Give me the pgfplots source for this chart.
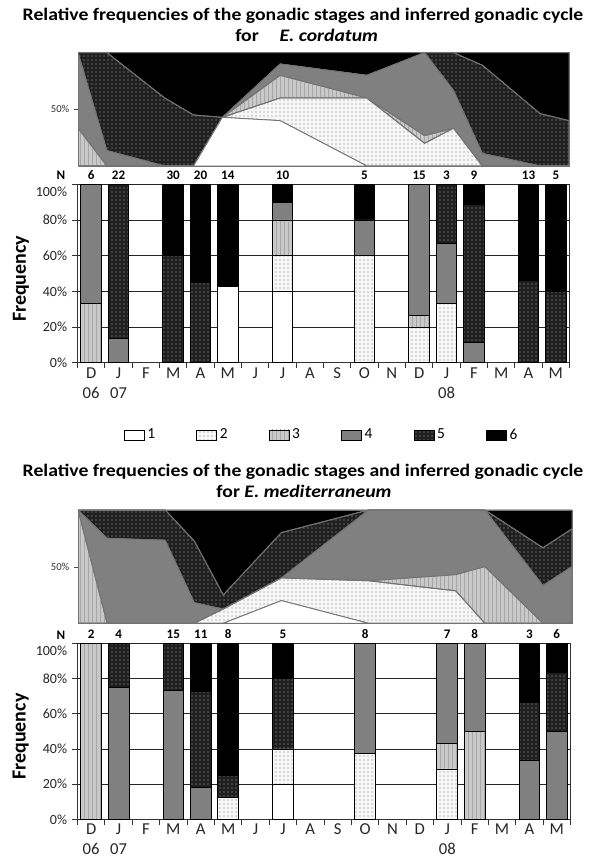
\documentclass[border=0pt]{standalone}
\usepackage{pgfplots}
\pgfplotsset{compat=1.18}
\usepackage{pgfplotstable}
\usetikzlibrary{patterns}
\usepackage{fontspec}
\setmainfont{Carlito}

% E. cordatum: percentages of stages 1-6, n = sample size
\pgfplotstableread{
x  s1   s2   s3   s4   s5   s6   n
0  0    0    33.3 66.7 0    0    6
1  0    0    0    13.6 86.4 0    22
3  0    0    0    0    60   40   30
4  0    0    0    0    45   55   20
5  42.9 0    0    0    0    57.1 14
7  40   20   20   10   0    10   10
10 0    60   0    20   0    20   5
12 0    20   6.7  73.3 0    0    15
13 0    33.3 0    33.4 33.3 0    3
14 0    0    0    11.1 77.8 11.1 9
16 0    0    0    0    46.2 53.8 13
17 0    0    0    0    40   60   5
}\dataA

% E. mediterraneum
\pgfplotstableread{
x  s1   s2   s3   s4   s5   s6   n
0  0    0    100  0    0    0    2
1  0    0    0    75   25   0    4
3  0    0    0    73.3 26.7 0    15
4  0    0    0    18.2 54.5 27.3 11
5  0    12.5 0    0    12.5 75   8
7  20   20   0    0    40   20   5
10 0    37.5 0    62.5 0    0    8
13 0    28.6 14.3 57.1 0    0    7
14 0    0    50   50   0    0    8
16 0    0    0    33.3 33.3 33.4 3
17 0    0    0    50   33.3 16.7 6
}\dataB

\tikzset{
  st1/.style={fill=white},
  st2/.style={fill=gray!6, postaction={pattern=dots, pattern color=black!55}},
  st3/.style={fill=gray!42, postaction={pattern=vertical lines, pattern color=gray!70}},
  st4/.style={fill=black!50},
  st5/.style={fill=black!88, postaction={pattern=dots, pattern color=gray!60}},
  st6/.style={fill=black},
  ttl/.style={anchor=base, xscale=1.12, inner sep=0pt, font=\fontsize{13.2}{16}\selectfont\bfseries},
}

\pgfplotsset{
  areaax/.style={
    scale only axis, anchor=south west,
    xmin=0, xmax=17, ymin=0, ymax=100,
    stack plots=y, area style,
    xtick=\empty, ytick={50}, yticklabels={50\%},
    tick align=outside, major tick length=3pt, tick pos=left,
    axis line style={black!55, line width=0.5pt},
    ytick style={black!70},
    yticklabel style={font=\fontsize{8}{9}\selectfont, color=black!80},
  },
  barax/.style={
    scale only axis, anchor=south west,
    xmin=-0.5, xmax=17.5, ymin=0, ymax=100,
    ybar stacked, bar width=0.756,
    ytick={0,20,...,80}, yticklabels={0\%,20\%,40\%,60\%,80\%},
    extra y ticks={100}, extra y tick labels={100\%},
    extra y tick style={yticklabel style={yshift=-5.5pt}},
    ymajorgrids, major grid style={black!85, line width=0.6pt},
    tick align=outside, tick pos=left, major tick length=4.3pt,
    axis line style={black!80, line width=0.6pt},
    tick style={black!80, line width=0.6pt},
    xtick={-0.5,0.5,...,17.5}, xticklabels={},
    extra x ticks={0,...,17},
    extra x tick labels={D\\06,J\\07,F,M,A,M,J,J,A,S,O,N,D,J\\08,F,M,A,M},
    extra x tick style={major tick length=0pt, grid=none},
    xticklabel style={font=\fontsize{12.5}{15}\selectfont, align=center, anchor=north, color=black!85},
    yticklabel style={font=\fontsize{10.5}{12}\selectfont, color=black!85},
    ylabel={Frequency},
    every axis y label/.style={at={(axis description cs:-0.115,0.47)}, rotate=90, anchor=center, font=\fontsize{15}{18}\selectfont\bfseries},
  },
  nax/.style={
    scale only axis, anchor=south west,
    xmin=-0.5, xmax=17.5, ymin=0, ymax=100, hide axis, clip=false,
  },
}

\begin{document}
\begin{tikzpicture}
\path[use as bounding box] (0,0) rectangle (443.25pt,-648pt);

% ---------- Panel 1 titles ----------
\node[ttl] at (227.25pt,-15.5pt)
  {Relative frequencies of the gonadic stages and inferred gonadic cycle};
\node[ttl] at (230pt,-31.3pt)
  {for\hspace{1.05em}\textit{E. cordatum}};

% ---------- Panel 1 area chart ----------
\begin{axis}[areaax, at={(58.5pt,-124.5pt)}, width=368.25pt, height=85pt]
\addplot[st1, draw=black!55, line width=0.6pt] table[x=x,y=s1]{\dataA} \closedcycle;
\addplot[st2, draw=black!55, line width=0.6pt] table[x=x,y=s2]{\dataA} \closedcycle;
\addplot[st3, draw=black!55, line width=0.6pt] table[x=x,y=s3]{\dataA} \closedcycle;
\addplot[st4, draw=black!55, line width=0.6pt] table[x=x,y=s4]{\dataA} \closedcycle;
\addplot[st5, draw=black!55, line width=0.6pt] table[x=x,y=s5]{\dataA} \closedcycle;
\addplot[st6, draw=black!55, line width=0.6pt] table[x=x,y=s6]{\dataA} \closedcycle;
\end{axis}

% ---------- Panel 1 bar chart ----------
\begin{axis}[barax, at={(58.125pt,-272.025pt)}, width=369pt, height=133.875pt,
  legend style={at={(0.497,-0.405)}, anchor=center, draw=none, fill=none,
    legend columns=6, font=\fontsize{11.5}{13}\selectfont,
    /tikz/every even column/.append style={column sep=29pt}},
  legend image code/.code={\draw[#1, draw=black, line width=0.5pt] (0pt,-3.75pt) rectangle (15pt,3.75pt);},
]
\addplot[st1, draw=black, line width=0.6pt] table[x=x,y=s1]{\dataA};
\addplot[st2, draw=black, line width=0.6pt] table[x=x,y=s2]{\dataA};
\addplot[st3, draw=black, line width=0.6pt] table[x=x,y=s3]{\dataA};
\addplot[st4, draw=black, line width=0.6pt] table[x=x,y=s4]{\dataA};
\addplot[st5, draw=black, line width=0.6pt] table[x=x,y=s5]{\dataA};
\addplot[st6, draw=black, line width=0.6pt] table[x=x,y=s6]{\dataA};
\legend{1,2,3,4,5,6}
\end{axis}

% N labels panel 1
\begin{axis}[nax, at={(58.125pt,-272.025pt)}, width=369pt, height=133.875pt]
\addplot[draw=none, nodes near coords, point meta=explicit symbolic,
  nodes near coords style={anchor=base, yshift=3.5pt, inner sep=0pt, font=\fontsize{9.8}{11}\selectfont\bfseries}]
  table[x=x, y expr=100, meta=n]{\dataA};
\end{axis}
\node[anchor=base, inner sep=0pt, font=\fontsize{9.8}{11}\selectfont\bfseries] at (45.75pt,-134.6pt) {N};

% ---------- Panel 2 titles ----------
\node[ttl] at (227.25pt,-357pt)
  {Relative frequencies of the gonadic stages and inferred gonadic cycle};
\node[ttl] at (228pt,-372.75pt)
  {for \textit{E. mediterraneum}};

% ---------- Panel 2 area chart ----------
\begin{axis}[areaax, at={(58.5pt,-467.475pt)}, width=370.5pt, height=85pt]
\addplot[st1, draw=black!55, line width=0.6pt] table[x=x,y=s1]{\dataB} \closedcycle;
\addplot[st2, draw=black!55, line width=0.6pt] table[x=x,y=s2]{\dataB} \closedcycle;
\addplot[st3, draw=black!55, line width=0.6pt] table[x=x,y=s3]{\dataB} \closedcycle;
\addplot[st4, draw=black!55, line width=0.6pt] table[x=x,y=s4]{\dataB} \closedcycle;
\addplot[st5, draw=black!55, line width=0.6pt] table[x=x,y=s5]{\dataB} \closedcycle;
\addplot[st6, draw=black!55, line width=0.6pt] table[x=x,y=s6]{\dataB} \closedcycle;
\end{axis}

% ---------- Panel 2 bar chart ----------
\begin{axis}[barax, at={(58.125pt,-614.475pt)}, width=369.75pt, height=132pt]
\addplot[st1, draw=black, line width=0.6pt] table[x=x,y=s1]{\dataB};
\addplot[st2, draw=black, line width=0.6pt] table[x=x,y=s2]{\dataB};
\addplot[st3, draw=black, line width=0.6pt] table[x=x,y=s3]{\dataB};
\addplot[st4, draw=black, line width=0.6pt] table[x=x,y=s4]{\dataB};
\addplot[st5, draw=black, line width=0.6pt] table[x=x,y=s5]{\dataB};
\addplot[st6, draw=black, line width=0.6pt] table[x=x,y=s6]{\dataB};
\end{axis}

% N labels panel 2
\begin{axis}[nax, at={(58.125pt,-614.475pt)}, width=369.75pt, height=132pt]
\addplot[draw=none, nodes near coords, point meta=explicit symbolic,
  nodes near coords style={anchor=base, yshift=3.5pt, inner sep=0pt, font=\fontsize{9.8}{11}\selectfont\bfseries}]
  table[x=x, y expr=100, meta=n]{\dataB};
\end{axis}
\node[anchor=base, inner sep=0pt, font=\fontsize{9.8}{11}\selectfont\bfseries] at (45.75pt,-479.6pt) {N};

\end{tikzpicture}
\end{document}
